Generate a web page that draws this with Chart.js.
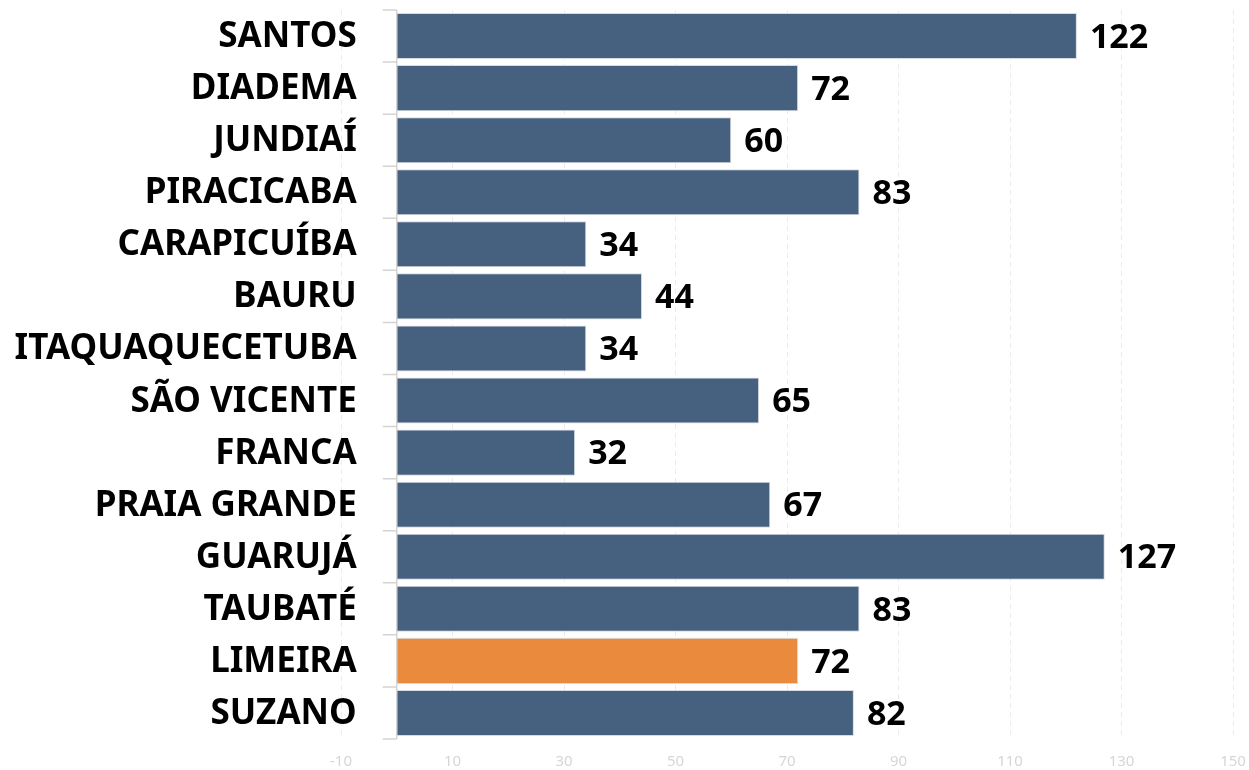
<!DOCTYPE html>
<html>
<head>
<meta charset="utf-8">
<script src="https://cdn.jsdelivr.net/npm/chart.js@4.4.1/dist/chart.umd.min.js"></script>
<style>
  html, body { margin: 0; padding: 0; background: #fff; }
  #wrap { width: 1249px; height: 770px; position: relative; }
</style>
</head>
<body>
<div id="wrap"><canvas id="chart"></canvas></div>
<script>
const CITIES = ['SANTOS', 'DIADEMA', 'JUNDIAÍ', 'PIRACICABA', 'CARAPICUÍBA', 'BAURU', 'ITAQUAQUECETUBA',
  'SÃO VICENTE', 'FRANCA', 'PRAIA GRANDE', 'GUARUJÁ', 'TAUBATÉ', 'LIMEIRA', 'SUZANO'];
const VALUES = [122, 72, 60, 83, 34, 44, 34, 65, 32, 67, 127, 83, 72, 82];
const HIGHLIGHT = 'LIMEIRA';
const X_TICKS = [-10, 10, 30, 50, 70, 90, 110, 130, 150];

const BLUE = '#46607f';
const ORANGE = '#e98a3c';
const FONT = "'Noto Sans', sans-serif";

// axis line at zero with little ticks between rows, city names and value labels
const extras = {
  id: 'extras',
  afterDatasetsDraw(chart) {
    const { ctx } = chart;
    const x = chart.scales.x;
    const y = chart.scales.y;
    const x0 = x.getPixelForValue(0);
    ctx.save();
    ctx.strokeStyle = '#d4d4d4';
    ctx.lineWidth = 1.5;
    ctx.beginPath();
    ctx.moveTo(x0, y.top);
    ctx.lineTo(x0, y.bottom);
    for (let i = 0; i <= CITIES.length; i++) {
      const ty = y.getPixelForValue(i - 0.5);
      ctx.moveTo(x0 - 14, ty);
      ctx.lineTo(x0, ty);
    }
    ctx.stroke();

    ctx.fillStyle = '#000';
    ctx.textBaseline = 'middle';
    ctx.textAlign = 'right';
    ctx.font = `bold 35px ${FONT}`;
    y.getLabels().forEach((name, i) => {
      ctx.fillText(name, x0 - 40, y.getPixelForValue(i) + 1);
    });
    ctx.textAlign = 'left';
    ctx.font = `bold 34px ${FONT}`;
    chart.getDatasetMeta(0).data.forEach((bar, i) => {
      ctx.fillText(String(VALUES[i]), bar.x + 13, bar.y + 2);
    });
    ctx.restore();
  },
};

new Chart(document.getElementById('chart'), {
  type: 'bar',
  data: {
    labels: CITIES,
    datasets: [{
      data: VALUES,
      backgroundColor: CITIES.map(c => (c === HIGHLIGHT ? ORANGE : BLUE)),
      borderColor: '#d6dbe1',
      borderWidth: 1,
      barPercentage: 0.885,
      categoryPercentage: 1,
    }],
  },
  options: {
    indexAxis: 'y',
    responsive: true,
    maintainAspectRatio: false,
    animation: false,
    layout: { padding: { top: 10, right: 16, left: 0, bottom: 0 } },
    plugins: { legend: { display: false }, tooltip: { enabled: false } },
    scales: {
      x: {
        min: -10,
        max: 150,
        afterBuildTicks: s => { s.ticks = X_TICKS.map(v => ({ value: v })); },
        afterFit: s => { s.paddingLeft = 0; s.paddingRight = 0; s.height = 31; },
        grid: { color: '#ebebeb', lineWidth: 1, drawTicks: false },
        border: { display: false, dash: [5, 4] },
        ticks: { color: '#d6d6d6', padding: 14, font: { family: FONT, size: 15 } },
      },
      y: {
        afterFit: s => { s.width = 341; },
        grid: { display: false },
        border: { display: false },
        ticks: { display: false },
      },
    },
  },
  plugins: [extras],
});
</script>
</body>
</html>
